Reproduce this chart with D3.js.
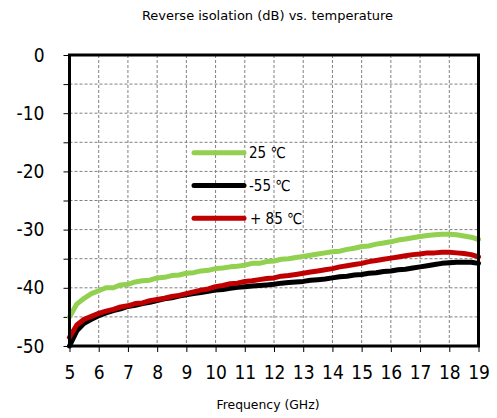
<!DOCTYPE html>
<html><head><meta charset="utf-8">
<script src="https://cdn.jsdelivr.net/npm/d3@7"></script>
<style>
html,body{margin:0;padding:0;background:#fff;}
svg{display:block;font-family:"DejaVu Sans Condensed","DejaVu Sans",sans-serif;}
</style></head>
<body><svg id="c" width="497" height="418"></svg>
<script>
const title = "Reverse isolation (dB) vs. temperature";
const xTitle = "Frequency (GHz)";
const xTicks = [5,6,7,8,9,10,11,12,13,14,15,16,17,18,19];
const yLabelTicks = [0,-10,-20,-30,-40,-50];
const yGridTicks = [0,-5,-10,-15,-20,-25,-30,-35,-40,-45,-50];
const seriesNames = ["25 ℃","-55 ℃","+ 85 ℃"];
const seriesColors = ["#92d050","#000000","#c00000"];
const freq = [5,5.25,5.5,5.75,6,6.25,6.5,6.75,7,7.25,7.5,7.75,8,8.25,8.5,8.75,9,9.25,9.5,9.75,10,10.25,10.5,10.75,11,11.25,11.5,11.75,12,12.25,12.5,12.75,13,13.25,13.5,13.75,14,14.25,14.5,14.75,15,15.25,15.5,15.75,16,16.25,16.5,16.75,17,17.25,17.5,17.75,18,18.25,18.5,18.75,19];
const t25 = [-45.0,-42.8,-41.8,-41.0,-40.5,-40.0,-40.0,-39.5,-39.4,-39.0,-38.8,-38.7,-38.3,-38.2,-37.9,-37.8,-37.5,-37.4,-37.1,-37.0,-36.7,-36.6,-36.4,-36.3,-36.1,-35.8,-35.8,-35.5,-35.4,-35.1,-35.0,-34.8,-34.6,-34.4,-34.2,-34.0,-33.8,-33.7,-33.4,-33.2,-32.9,-32.8,-32.5,-32.3,-32.1,-31.8,-31.6,-31.4,-31.2,-31.0,-30.9,-30.8,-30.8,-30.9,-31.1,-31.3,-31.7];
const tm55 = [-50.0,-47.4,-46.1,-45.4,-44.8,-44.3,-43.9,-43.6,-43.2,-43.0,-42.7,-42.5,-42.2,-41.9,-41.7,-41.4,-41.2,-41.0,-40.8,-40.6,-40.4,-40.3,-40.1,-39.9,-39.8,-39.7,-39.6,-39.5,-39.4,-39.2,-39.1,-39.0,-38.9,-38.7,-38.6,-38.5,-38.3,-38.1,-38.0,-37.8,-37.7,-37.5,-37.4,-37.2,-37.1,-36.9,-36.8,-36.6,-36.4,-36.2,-36.0,-35.8,-35.7,-35.6,-35.6,-35.6,-35.8];
const t85 = [-48.5,-46.4,-45.4,-44.9,-44.4,-44.0,-43.7,-43.3,-43.1,-42.7,-42.6,-42.2,-42.0,-41.8,-41.5,-41.3,-41.0,-40.7,-40.4,-40.2,-39.8,-39.6,-39.3,-39.2,-38.9,-38.8,-38.6,-38.4,-38.3,-38.0,-37.9,-37.7,-37.5,-37.3,-37.1,-36.9,-36.7,-36.4,-36.2,-36.0,-35.8,-35.5,-35.3,-35.1,-34.9,-34.7,-34.5,-34.3,-34.2,-34.0,-34.0,-33.9,-33.9,-34.0,-34.1,-34.3,-34.7];
const seriesValues = [t25, tm55, t85];

const svg = d3.select("#c");
const L = 69.5, R = 478.5, T = 55, B = 346;
const x = d3.scaleLinear().domain([5,19]).range([L,R]);
const y = d3.scaleLinear().domain([-50,0]).range([B,T]);

// grid
const g = svg.append("g");
g.selectAll("line.gx").data(xTicks).enter().append("line")
  .attr("x1",d=>x(d)).attr("x2",d=>x(d)).attr("y1",T).attr("y2",B)
  .attr("stroke","#808080").attr("stroke-width",1).attr("stroke-dasharray","3,2");
g.selectAll("line.gy").data(yGridTicks).enter().append("line")
  .attr("y1",d=>y(d)).attr("y2",d=>y(d)).attr("x1",L).attr("x2",R)
  .attr("stroke","#808080").attr("stroke-width",1).attr("stroke-dasharray","3,2");

// axes
const xAxis = d3.axisBottom(x).tickValues(xTicks).tickSize(6).tickPadding(9).tickFormat(d3.format("d"));
const yAxis = d3.axisLeft(y).tickValues(yGridTicks).tickSize(6).tickPadding(19)
  .tickFormat(d => yLabelTicks.includes(d) ? d3.format("d")(d).replace("−","-") : "");
const ax = svg.append("g").attr("transform",`translate(0,${B})`).call(xAxis);
const ay = svg.append("g").attr("transform",`translate(${L},0)`).call(yAxis);
[ax,ay].forEach(a=>{
  a.select(".domain").remove();
  a.selectAll(".tick line").attr("stroke","#000").attr("stroke-width",1);
  a.selectAll(".tick text").attr("fill","#000").style("font-size","19px")
   .style("font-family","'DejaVu Sans Condensed','DejaVu Sans',sans-serif");
});
ax.selectAll(".tick text").attr("dy","0.95em");

// series
const line = d3.line().x(d=>x(d[0])).y(d=>y(d[1]));
seriesValues.forEach((vals,i)=>{
  svg.append("path").datum(freq.map((f,j)=>[f,vals[j]]))
    .attr("d",line).attr("fill","none").attr("stroke",seriesColors[i])
    .attr("stroke-width",5).attr("stroke-linejoin","round").attr("stroke-linecap","round");
});

// frame
svg.append("rect").attr("x",L).attr("y",T).attr("width",R-L).attr("height",B-T)
  .attr("fill","none").attr("stroke","#000").attr("stroke-width",3);

// legend
const legY = [152.7,185.5,218.3];
seriesNames.forEach((n,i)=>{
  svg.append("line").attr("x1",194).attr("x2",244).attr("y1",legY[i]).attr("y2",legY[i])
    .attr("stroke",seriesColors[i]).attr("stroke-width",5).attr("stroke-linecap","round");
  svg.append("text").attr("x",i===2?250:249).attr("y",legY[i]).attr("dy","0.35em")
    .style("font-size","15px").attr("fill","#000").text(n);
});

// titles
svg.append("text").attr("x",267.5).attr("y",20).attr("text-anchor","middle")
  .style("font-family","'DejaVu Sans',sans-serif").style("font-size","13px").text(title);
svg.append("text").attr("x",268).attr("y",409).attr("text-anchor","middle")
  .style("font-family","'DejaVu Sans',sans-serif").style("font-size","12.4px").text(xTitle);
</script></body></html>
